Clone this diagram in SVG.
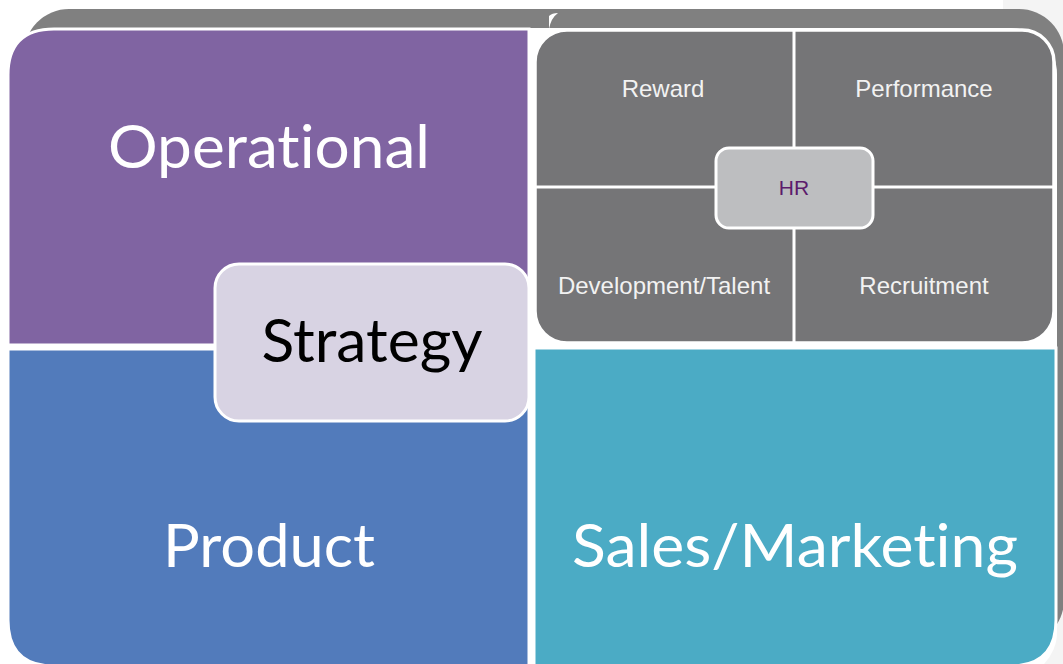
<svg xmlns="http://www.w3.org/2000/svg" width="1063" height="664" viewBox="0 0 1063 664">
  <style>
    .quad { stroke: #ffffff; stroke-width: 3; }
    .big { font-family: Lato, "Open Sans", "Liberation Sans", sans-serif; font-size: 60px; fill: #ffffff; text-anchor: middle; font-variant-ligatures: none; font-feature-settings: "liga" 0, "dlig" 0; }
    .sub { font-family: "Liberation Sans", Arial, sans-serif; font-size: 24px; fill: #f2f2f2; text-anchor: middle; }
    .divider { stroke: #ffffff; stroke-width: 3; fill: none; }
  </style>

  <!-- page background -->
  <rect x="0" y="0" width="1063" height="664" fill="#ffffff"/>
  <rect x="1003" y="0" width="60" height="664" fill="#f4f4f4"/>

  <!-- grey backdrop frame -->
  <rect id="backdrop" x="24" y="9" width="1040" height="636" rx="45" fill="#808080"/>
  <!-- white bed under the four quadrants (gaps between them) -->
  <rect x="6" y="28" width="1051" height="650" rx="46" fill="#ffffff"/>
  <path d="M549,29 L549,16 Q552,13 558,13 Q551,18 549,29 Z" fill="#ffffff"/>

  <!-- Operational quadrant -->
  <g id="operational">
    <path class="quad" d="M8,345 L8,75 Q8,29 54,29 L529,29 L529,345 Z" fill="#8064a2"/>
    <text class="big" x="269" y="168" textLength="322" lengthAdjust="spacingAndGlyphs">Operational</text>
  </g>

  <!-- Product quadrant -->
  <g id="product">
    <path class="quad" d="M8,349 L529,349 L529,666 L54,666 Q8,666 8,620 Z" fill="#527bbb"/>
    <text class="big" x="269" y="567" textLength="212" lengthAdjust="spacingAndGlyphs">Product</text>
  </g>

  <!-- Sales/Marketing quadrant -->
  <g id="sales-marketing">
    <path class="quad" d="M534,348 L1056,348 L1056,620 Q1056,666 1010,666 L534,666 Z" fill="#4babc5"/>
    <text class="big" x="795" y="567" textLength="446" lengthAdjust="spacingAndGlyphs">Sales/Marketing</text>
  </g>

  <!-- HR quadrant with its four areas -->
  <g id="hr-panel">
    <rect x="535" y="30" width="519" height="313" rx="32" fill="#757577" stroke="#ffffff" stroke-width="3.5"/>
    <line class="divider" x1="794" y1="30" x2="794" y2="343"/>
    <line class="divider" x1="535" y1="187" x2="1054" y2="187"/>
  </g>
  <g id="reward"><text class="sub" x="663" y="97">Reward</text></g>
  <g id="performance"><text class="sub" x="924" y="97">Performance</text></g>
  <g id="development-talent"><text class="sub" x="664" y="294">Development/Talent</text></g>
  <g id="recruitment"><text class="sub" x="924" y="294">Recruitment</text></g>
  <g id="hr">
    <rect x="716" y="148" width="157" height="80" rx="13" fill="#bdbec0" stroke="#ffffff" stroke-width="3"/>
    <text x="794" y="195" font-family="'Liberation Sans', Arial, sans-serif" font-size="21" fill="#5c1b6c" text-anchor="middle">HR</text>
  </g>

  <!-- Strategy centre -->
  <g id="strategy">
    <rect x="215" y="264" width="314" height="157" rx="24" fill="#d8d3e3" stroke="#ffffff" stroke-width="3"/>
    <text class="big" x="372" y="362" style="fill:#000000" textLength="221" lengthAdjust="spacingAndGlyphs">Strategy</text>
  </g>
</svg>
